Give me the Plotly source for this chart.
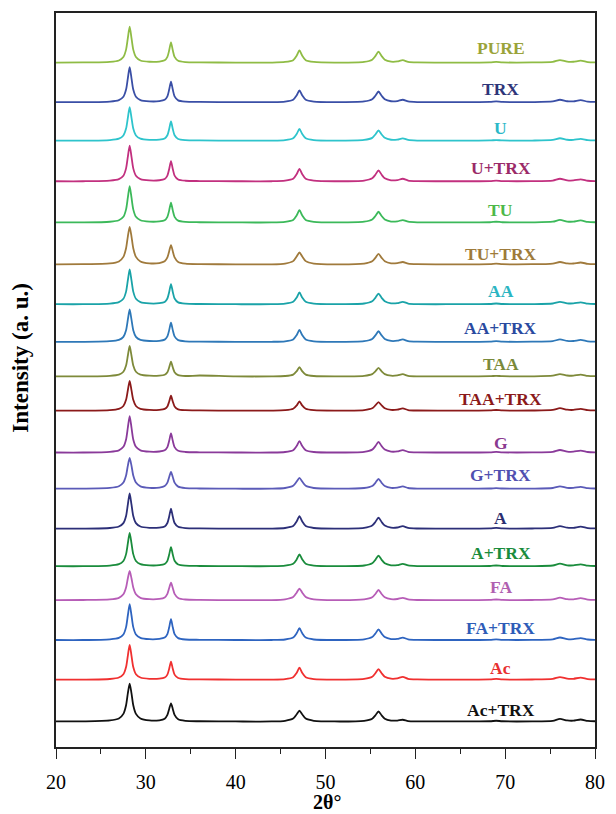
import plotly.graph_objects as go

# 2-theta sampling positions (degrees)
two_theta = [20, 23, 26, 27, 27.5, 27.8, 28.0, 28.2, 28.4, 28.6, 28.9, 29.4, 30.4,
             31.5, 32.1, 32.4, 32.6, 32.8, 33.0, 33.2, 33.6, 34.4,
             36, 40, 44,
             45.5, 46.4, 46.8, 47.1, 47.4, 47.8, 48.7,
             51,
             54.3, 55.2, 55.55, 55.9, 56.25, 56.6, 57.3, 58.0, 58.6, 59.2, 60.2,
             64, 68.3, 69.0, 69.7, 73, 75.3, 76.1, 76.9, 77.6, 78.4, 79.2, 80]

pure = [0.3, 0.4, 1.0, 2.4, 5.9, 13.3, 25.1, 36.3, 25.1, 13.3, 5.9, 2.4, 1.1,
        1.3, 2.6, 6.0, 12.6, 20.5, 12.6, 6.0, 2.1, 0.8,
        0.5, 0.3, 0.3,
        0.9, 2.7, 7.4, 12.5, 7.4, 2.7, 0.9,
        0.3,
        1.0, 3.2, 6.8, 11.2, 6.8, 3.2, 1.2, 1.4, 2.7, 1.0, 0.4,
        0.3, 0.5, 1.0, 0.5, 0.4, 1.0, 2.8, 1.2, 1.1, 2.2, 0.8, 0.5]
trx = [0.3, 0.3, 0.9, 2.4, 5.7, 12.9, 24.5, 35.3, 24.5, 12.9, 5.7, 2.4, 1.1,
       1.3, 2.6, 6.1, 12.9, 20.9, 12.9, 6.1, 2.1, 0.8,
       0.5, 0.3, 0.3,
       0.8, 2.7, 7.2, 12.2, 7.2, 2.7, 0.8,
       0.3,
       1.0, 3.2, 6.7, 11.0, 6.7, 3.2, 1.2, 1.4, 2.7, 1.0, 0.4,
       0.3, 0.5, 1.0, 0.5, 0.4, 1.0, 2.7, 1.2, 1.1, 2.3, 0.8, 0.5]
u = [0.3, 0.3, 0.9, 2.3, 5.5, 12.4, 23.4, 33.8, 23.4, 12.4, 5.5, 2.3, 1.1,
     1.3, 2.5, 5.7, 12.0, 19.5, 12.0, 5.7, 2.0, 0.8,
     0.5, 0.3, 0.3,
     0.8, 2.7, 7.1, 12.1, 7.1, 2.7, 0.8,
     0.3,
     1.0, 3.1, 6.5, 10.7, 6.5, 3.1, 1.2, 1.4, 2.6, 1.0, 0.4,
     0.3, 0.5, 0.9, 0.5, 0.4, 1.0, 2.7, 1.2, 1.0, 2.1, 0.8, 0.5]
u_trx = [0.3, 0.3, 0.9, 2.4, 5.8, 13.2, 25.0, 36.1, 25.0, 13.2, 5.8, 2.4, 1.1,
         1.3, 2.6, 6.0, 12.6, 20.5, 12.6, 6.0, 2.1, 0.8,
         0.5, 0.3, 0.3,
         0.9, 2.8, 7.6, 12.8, 7.6, 2.8, 0.9,
         0.3,
         1.0, 3.2, 6.8, 11.2, 6.8, 3.2, 1.2, 1.4, 2.8, 1.0, 0.4,
         0.3, 0.5, 1.0, 0.5, 0.4, 1.0, 2.8, 1.2, 1.1, 2.2, 0.8, 0.5]
tu = [0.3, 0.3, 1.0, 2.5, 5.9, 13.4, 25.4, 36.7, 25.4, 13.4, 5.9, 2.5, 1.1,
      1.3, 2.5, 5.9, 12.4, 20.2, 12.4, 5.9, 2.1, 0.8,
      0.5, 0.3, 0.3,
      0.9, 2.7, 7.4, 12.5, 7.4, 2.7, 0.9,
      0.3,
      1.0, 3.2, 6.7, 11.0, 6.7, 3.2, 1.2, 1.4, 2.7, 1.0, 0.4,
      0.3, 0.5, 1.0, 0.5, 0.4, 1.0, 2.8, 1.2, 1.1, 2.3, 0.8, 0.5]
tu_trx = [0.3, 0.4, 1.2, 3.2, 7.8, 16.4, 28.4, 37.7, 28.4, 16.4, 7.8, 3.2, 1.3,
          1.6, 3.3, 7.2, 13.5, 19.5, 13.5, 7.2, 2.7, 1.0,
          0.5, 0.3, 0.3,
          1.1, 3.5, 8.3, 12.2, 8.3, 3.5, 1.1,
          0.3,
          1.1, 3.4, 6.8, 10.7, 6.8, 3.4, 1.3, 1.5, 2.6, 1.0, 0.4,
          0.3, 0.5, 1.0, 0.5, 0.4, 1.1, 2.6, 1.3, 1.1, 2.1, 0.8, 0.5]
aa = [0.3, 0.3, 0.9, 2.4, 5.7, 12.9, 24.4, 35.2, 24.4, 12.9, 5.7, 2.4, 1.1,
      1.3, 2.6, 6.0, 12.6, 20.5, 12.6, 6.0, 2.1, 0.8,
      0.5, 0.3, 0.3,
      0.8, 2.7, 7.1, 12.1, 7.1, 2.7, 0.8,
      0.3,
      1.0, 3.2, 6.7, 10.9, 6.7, 3.2, 1.2, 1.4, 2.7, 1.0, 0.4,
      0.3, 0.5, 1.0, 0.5, 0.4, 1.0, 2.7, 1.2, 1.1, 2.2, 0.8, 0.5]
aa_trx = [0.3, 0.3, 0.9, 2.2, 5.3, 12.0, 22.7, 32.8, 22.7, 12.0, 5.3, 2.2, 1.1,
          1.3, 2.5, 5.7, 12.0, 19.5, 12.0, 5.7, 2.0, 0.8,
          0.5, 0.3, 0.3,
          0.8, 2.7, 7.2, 12.2, 7.2, 2.7, 0.8,
          0.3,
          1.0, 3.2, 6.7, 10.9, 6.7, 3.2, 1.2, 1.4, 2.7, 1.0, 0.4,
          0.3, 0.5, 1.0, 0.5, 0.4, 1.0, 2.7, 1.2, 1.1, 2.2, 0.8, 0.5]
taa = [0.3, 0.3, 0.9, 2.1, 5.0, 11.3, 21.3, 30.8, 21.3, 11.3, 5.0, 2.1, 1.0,
       1.1, 2.0, 4.5, 9.4, 15.2, 9.4, 4.5, 1.6, 0.7,
       1.2, 0.3, 0.3,
       0.7, 2.1, 5.6, 9.5, 5.6, 2.1, 0.7,
       0.3,
       0.9, 2.6, 5.4, 8.8, 5.4, 2.6, 1.0, 1.3, 2.5, 0.9, 0.4,
       0.3, 0.5, 0.9, 0.5, 0.4, 1.0, 2.6, 1.2, 1.0, 2.1, 0.8, 0.5]
taa_trx = [0.3, 0.3, 0.8, 2.1, 4.9, 11.1, 20.9, 30.2, 20.9, 11.1, 4.9, 2.1, 1.0,
           1.1, 2.0, 4.5, 9.4, 15.2, 9.4, 4.5, 1.6, 0.7,
           0.5, 0.3, 0.3,
           0.7, 2.1, 5.6, 9.5, 5.6, 2.1, 0.7,
           0.3,
           0.9, 2.6, 5.5, 8.9, 5.5, 2.6, 1.0, 1.3, 2.5, 0.9, 0.4,
           0.3, 0.5, 0.9, 0.5, 0.4, 1.0, 2.7, 1.2, 1.0, 2.1, 0.8, 0.5]
g = [0.3, 0.3, 1.0, 2.5, 6.0, 13.4, 25.5, 36.8, 25.5, 13.4, 6.0, 2.5, 1.1,
     1.3, 2.5, 5.7, 12.0, 19.5, 12.0, 5.7, 2.0, 0.8,
     0.5, 0.3, 0.3,
     0.8, 2.6, 7.0, 11.8, 7.0, 2.6, 0.8,
     0.3,
     1.0, 3.2, 6.7, 10.9, 6.7, 3.2, 1.2, 1.4, 2.7, 1.0, 0.4,
     0.3, 0.5, 1.0, 0.5, 0.4, 1.0, 2.8, 1.2, 1.1, 2.2, 0.8, 0.5]
g_trx = [0.3, 0.4, 1.1, 2.7, 6.5, 13.6, 23.5, 31.2, 23.5, 13.6, 6.5, 2.7, 1.2,
         1.4, 2.9, 6.4, 12.0, 17.2, 12.0, 6.4, 2.4, 0.9,
         0.5, 0.3, 0.3,
         1.0, 3.2, 7.6, 11.2, 7.6, 3.2, 1.0,
         0.3,
         1.0, 3.0, 6.2, 10.2, 6.2, 3.0, 1.1, 1.4, 2.6, 1.0, 0.4,
         0.3, 0.5, 0.9, 0.5, 0.4, 1.0, 2.7, 1.2, 1.1, 2.2, 0.8, 0.5]
a = [0.3, 0.3, 0.9, 2.4, 5.8, 13.0, 24.6, 35.5, 24.6, 13.0, 5.8, 2.4, 1.1,
     1.3, 2.5, 5.9, 12.4, 20.2, 12.4, 5.9, 2.1, 0.8,
     0.5, 0.3, 0.3,
     0.9, 2.8, 7.6, 12.8, 7.6, 2.8, 0.9,
     0.3,
     1.0, 3.3, 6.9, 11.3, 6.9, 3.3, 1.2, 1.4, 2.8, 1.0, 0.4,
     0.3, 0.5, 1.0, 0.5, 0.4, 1.0, 2.8, 1.2, 1.1, 2.3, 0.8, 0.5]
a_trx = [0.3, 0.3, 0.9, 2.3, 5.5, 12.4, 23.4, 33.8, 23.4, 12.4, 5.5, 2.3, 1.1,
         1.3, 2.5, 5.7, 12.0, 19.5, 12.0, 5.7, 2.0, 0.8,
         0.5, 0.3, 0.3,
         0.8, 2.7, 7.2, 12.2, 7.2, 2.7, 0.8,
         0.3,
         1.0, 3.2, 6.7, 10.9, 6.7, 3.2, 1.2, 1.4, 2.7, 1.0, 0.4,
         0.3, 0.5, 1.0, 0.5, 0.4, 1.0, 2.8, 1.2, 1.1, 2.2, 0.8, 0.5]
fa = [0.3, 0.4, 1.0, 2.6, 6.1, 12.9, 22.2, 29.5, 22.2, 12.9, 6.1, 2.6, 1.2,
      1.5, 3.0, 6.6, 12.4, 17.8, 12.4, 6.6, 2.5, 0.9,
      0.5, 0.3, 0.3,
      1.1, 3.4, 8.0, 11.8, 8.0, 3.4, 1.1,
      0.3,
      1.0, 3.1, 6.4, 10.5, 6.4, 3.1, 1.2, 1.4, 2.6, 1.0, 0.4,
      0.3, 0.5, 0.9, 0.5, 0.4, 1.0, 2.7, 1.2, 1.1, 2.2, 0.8, 0.5]
fa_trx = [0.3, 0.3, 1.0, 2.4, 5.9, 13.2, 25.1, 36.2, 25.1, 13.2, 5.9, 2.4, 1.1,
          1.4, 2.7, 6.2, 13.0, 21.2, 13.0, 6.2, 2.2, 0.8,
          0.5, 0.3, 0.3,
          0.8, 2.7, 7.2, 12.2, 7.2, 2.7, 0.8,
          0.3,
          1.0, 3.2, 6.7, 10.9, 6.7, 3.2, 1.2, 1.4, 2.7, 1.0, 0.4,
          0.3, 0.5, 1.0, 0.5, 0.4, 1.0, 2.8, 1.2, 1.1, 2.2, 0.8, 0.5]
ac = [0.3, 0.3, 0.9, 2.4, 5.7, 12.9, 24.4, 35.2, 24.4, 12.9, 5.7, 2.4, 1.1,
      1.2, 2.3, 5.3, 11.2, 18.2, 11.2, 5.3, 1.9, 0.7,
      0.5, 0.3, 0.3,
      0.8, 2.7, 7.2, 12.2, 7.2, 2.7, 0.8,
      0.3,
      1.0, 3.1, 6.6, 10.8, 6.6, 3.1, 1.2, 1.5, 3.0, 1.1, 0.5,
      0.3, 0.5, 1.0, 0.5, 0.4, 1.0, 2.8, 1.2, 1.1, 2.3, 0.8, 0.5]
ac_trx = [0.3, 0.4, 1.3, 3.3, 7.9, 16.6, 28.7, 38.2, 28.7, 16.6, 7.9, 3.3, 1.3,
          1.5, 3.1, 6.9, 12.9, 18.5, 12.9, 6.9, 2.5, 0.9,
          0.5, 0.3, 0.3,
          1.0, 3.2, 7.6, 11.2, 7.6, 3.2, 1.0,
          0.3,
          1.0, 3.1, 6.4, 10.5, 6.4, 3.1, 1.2, 1.2, 2.0, 0.7, 0.4,
          0.3, 0.5, 1.0, 0.5, 0.4, 1.0, 2.9, 1.3, 1.1, 2.3, 0.8, 0.5]

sample_names = ["PURE", "TRX", "U", "U+TRX", "TU", "TU+TRX", "AA", "AA+TRX", "TAA",
                "TAA+TRX", "G", "G+TRX", "A", "A+TRX", "FA", "FA+TRX", "Ac", "Ac+TRX"]
intensities = [pure, trx, u, u_trx, tu, tu_trx, aa, aa_trx, taa,
               taa_trx, g, g_trx, a, a_trx, fa, fa_trx, ac, ac_trx]
# vertical stacking offsets (a.u.)
offsets = [686, 646.3, 607.7, 567, 525.7, 483.7, 443.7, 406, 371.3,
           337, 295, 258.7, 218.7, 181, 147, 107, 67.3, 25.3]
label_y = [701, 659.7, 620.3, 580.3, 538.7, 494.3, 457.7, 420.3, 384.3,
           348.7, 305.3, 272.7, 229.7, 194.3, 160.3, 119, 79, 37.3]
label_x = 69.5

line_colors = ["#8fbc45", "#3a4fa6", "#2ec4cc", "#c2307f", "#3cb95a", "#a07a3c",
               "#1aa3a8", "#2e78b8", "#7e8a3a", "#8b1a1a", "#8a3a9a", "#5b5bb8",
               "#2c2f78", "#1a8c3c", "#b75db7", "#2e64c0", "#f03030", "#111111"]
label_colors = ["#9aa33a", "#2e3579", "#2bb8c8", "#9b2a68", "#4cb848", "#9e7b3a",
                "#2bb5c2", "#2a4aa0", "#7a8a3a", "#8b1a1a", "#8a3a90", "#5050b0",
                "#2c2f70", "#1a8c3c", "#b060b0", "#2e5cb8", "#e83030", "#111111"]

fig = go.Figure()
for name, ys, off, col in zip(sample_names, intensities, offsets, line_colors):
    fig.add_trace(go.Scatter(
        x=two_theta, y=[v + off for v in ys], mode="lines", name=name,
        line=dict(color=col, width=1.8, shape="spline", smoothing=0.7),
        showlegend=False, hoverinfo="skip"))

for name, ly, col in zip(sample_names, label_y, label_colors):
    fig.add_annotation(x=label_x, y=ly, xref="x", yref="y", text="<b>%s</b>" % name,
                       showarrow=False, xanchor="center", yanchor="middle",
                       font=dict(family="Liberation Serif", size=17.5, color=col))

fig.add_annotation(x=0.502, y=-0.0747, xref="paper", yref="paper", text="<b>2θ°</b>",
                   showarrow=False, xanchor="center", yanchor="middle",
                   font=dict(family="Liberation Serif", size=20, color="black"))
fig.add_annotation(x=-0.066, y=0.531, xref="paper", yref="paper",
                   text="<b>Intensity (a. u.)</b>", textangle=-90,
                   showarrow=False, xanchor="center", yanchor="middle",
                   font=dict(family="Liberation Serif", size=23, color="black"))

fig.update_layout(
    width=616, height=814,
    margin=dict(l=56, r=11, t=11, b=67),
    paper_bgcolor="white", plot_bgcolor="white",
    font=dict(family="Liberation Serif", color="black"),
    xaxis=dict(range=[20, 80], tickmode="linear", tick0=20, dtick=10,
               ticks="outside", ticklen=10, tickwidth=1.3, tickcolor="#222",
               minor=dict(ticks="outside", ticklen=5, dtick=5, tickwidth=1.3, tickcolor="#222"),
               showline=True, linecolor="#222", linewidth=1.5, mirror=True,
               showgrid=False, zeroline=False, ticklabelstandoff=6,
               ticklabeloverflow="allow",
               tickfont=dict(family="Liberation Serif", size=20, color="black")),
    yaxis=dict(range=[0, 736], showticklabels=False, ticks="",
               showline=True, linecolor="#222", linewidth=1.5, mirror=True,
               showgrid=False, zeroline=False),
)

fig.write_html("out.html", config={"displayModeBar": False},
               post_script="document.body.style.margin='0';document.body.style.overflow='hidden';")
